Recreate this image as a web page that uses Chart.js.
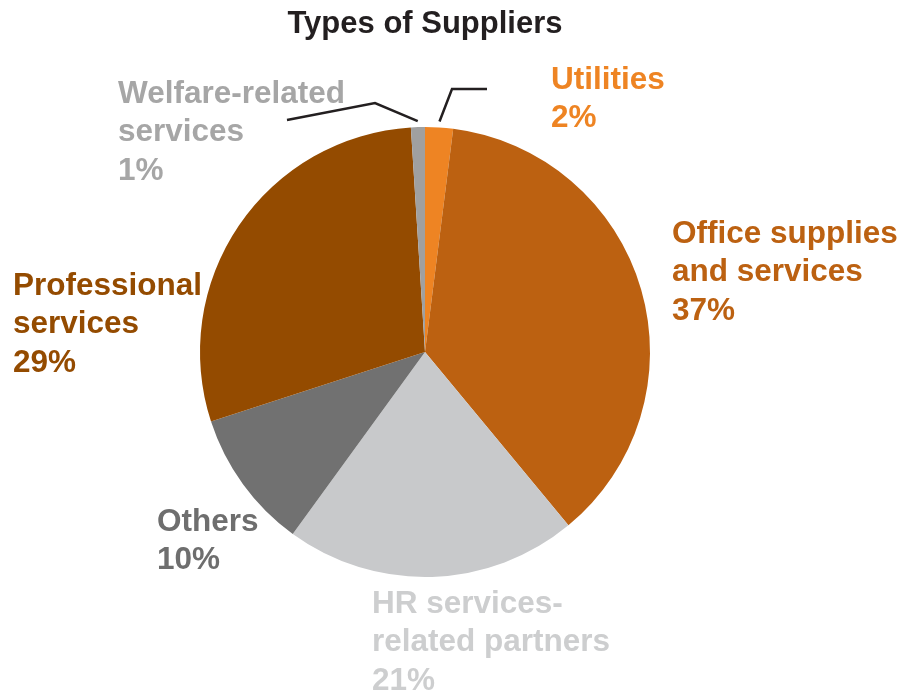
<!DOCTYPE html>
<html>
<head>
<meta charset="utf-8">
<script src="https://cdn.jsdelivr.net/npm/chart.js@4/dist/chart.umd.min.js"></script>
<style>
  html, body { margin: 0; padding: 0; background: #fff; }
  #wrap { width: 901px; height: 690px; }
</style>
</head>
<body>
<div id="wrap"><canvas id="suppliers"></canvas></div>
<script>
var categories = [
    ['Utilities'],
    ['Office supplies', 'and services'],
    ['HR services-', 'related partners'],
    ['Others'],
    ['Professional', 'services'],
    ['Welfare-related', 'services']
];
var shares = [2, 37, 21, 10, 29, 1];
var sliceColors = ['#EE8423', '#BC6111', '#C8C9CB', '#717171', '#944B00', '#A0A0A0'];
var textColors  = ['#EE8423', '#BC6111', '#CDCECF', '#6E6E6E', '#944B00', '#A6A6A6'];

// where each label block starts (left edge, first line centre)
var labelPos = [[551, 80], [672, 234], [372, 604], [157, 522], [13, 286], [118, 94]];
// leader lines: elbow and end point, starting at the slice edge
var leaders = {
    0: [[452, 89], [487, 89]],
    5: [[375, 103], [287, 120]]
};

var sliceLabels = {
    id: 'sliceLabels',
    afterDraw: function(chart){
        var ctx = chart.ctx;
        var meta = chart.getDatasetMeta(0);
        ctx.save();
        ctx.font = 'bold 31.5px "Liberation Sans", Arial, sans-serif';
        ctx.textBaseline = 'middle';
        ctx.textAlign = 'left';
        shares.forEach(function(v, i){
            var lines = categories[i].concat([v + '%']);
            ctx.fillStyle = textColors[i];
            lines.forEach(function(t, k){
                ctx.fillText(t, labelPos[i][0], labelPos[i][1] + k * 38.5);
            });
        });
        // leader lines
        ctx.strokeStyle = '#231F20';
        ctx.lineWidth = 2.5;
        Object.keys(leaders).forEach(function(key){
            var arc = meta.data[key];
            var p = arc.getProps(['x', 'y', 'startAngle', 'endAngle', 'outerRadius'], true);
            var mid = (p.startAngle + p.endAngle) / 2;
            var r = p.outerRadius + 6;
            ctx.beginPath();
            ctx.moveTo(p.x + Math.cos(mid) * r, p.y + Math.sin(mid) * r);
            leaders[key].forEach(function(pt){ ctx.lineTo(pt[0], pt[1]); });
            ctx.stroke();
        });
        ctx.restore();
    }
};

new Chart(document.getElementById('suppliers'), {
    type: 'pie',
    data: {
        labels: categories.map(function(c){ return c.join(' '); }),
        datasets: [{
            data: shares,
            backgroundColor: sliceColors,
            borderWidth: 0
        }]
    },
    options: {
        responsive: true,
        maintainAspectRatio: false,
        animation: false,
        layout: { padding: { left: 200, right: 251, top: 0, bottom: 113 } },
        plugins: {
            legend: { display: false },
            tooltip: { enabled: false },
            title: {
                display: true,
                text: 'Types of Suppliers',
                color: '#231F20',
                font: { family: '"Liberation Sans", Arial, sans-serif', size: 31, weight: 'bold', lineHeight: 1.2 },
                padding: { top: 6, bottom: 83.8 }
            }
        }
    },
    plugins: [sliceLabels]
});
</script>
</body>
</html>
